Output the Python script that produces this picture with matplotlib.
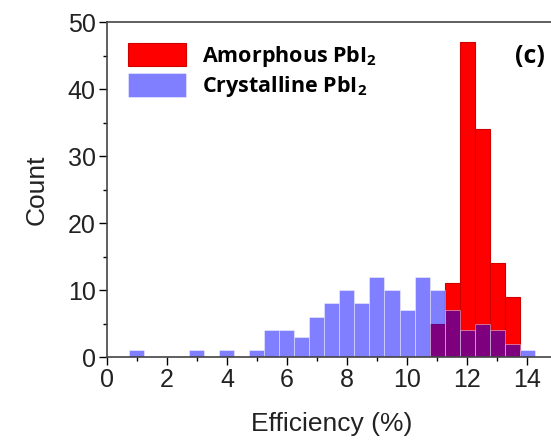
import matplotlib
matplotlib.use("Agg")
import matplotlib.pyplot as plt
import numpy as np

# bin centres (width 0.5) and counts
centers = np.arange(1.0, 14.01, 0.5)
crystalline = [1, 0, 0, 0, 1, 0, 1, 0, 1, 4, 4, 3, 6, 8, 10, 8, 12, 10, 7, 12,
               10, 7, 4, 5, 4, 2, 1]
amorphous = [0, 0, 0, 0, 0, 0, 0, 0, 0, 0, 0, 0, 0, 0, 0, 0, 0, 0, 0, 0,
             5, 11, 47, 34, 14, 9, 0]
xticks = [0, 2, 4, 6, 8, 10, 12, 14]
yticks = [0, 10, 20, 30, 40, 50]

plt.rcParams['font.family'] = ['Liberation Sans', 'DejaVu Sans']
plt.rcParams['mathtext.fontset'] = 'custom'
plt.rcParams['mathtext.rm'] = 'Open Sans'
plt.rcParams['mathtext.bf'] = 'Open Sans:bold'

fig = plt.figure(figsize=(5.51, 4.43), dpi=100)
ax = fig.add_axes([0.194, 0.194, 0.817, 0.756])

ax.bar(centers, amorphous, width=0.5, color='#ff0000', edgecolor='#d00000',
       linewidth=0.8, label=r'Amorphous PbI$_\mathbf{2}$')
ax.bar(centers, crystalline, width=0.5, color='#0000ff', alpha=0.5,
       edgecolor='#ffffff', linewidth=0.6, label=r'Crystalline PbI$_\mathbf{2}$')

ax.set_xlim(0, 15)
ax.set_ylim(0, 50)
ax.set_xticks(xticks)
ax.set_yticks(yticks)
ax.set_xticks(np.arange(1, 15, 2), minor=True)
ax.set_yticks(np.arange(5, 50, 10), minor=True)
ax.tick_params(axis='both', which='major', direction='out', length=6, width=1,
               labelsize=18, pad=2, labelcolor='#222222')
ax.tick_params(axis='both', which='minor', direction='out', length=3, width=1)
ax.tick_params(top=False, right=False)
for s in ax.spines.values():
    s.set_linewidth(1.2)
    s.set_color('#444444')

ax.set_xlabel('Efficiency (%)', fontsize=19, labelpad=14, color='#222222')
ax.set_ylabel('Count', fontsize=19, labelpad=14, color='#222222')

leg = ax.legend(loc='upper left', bbox_to_anchor=(0.027, 0.964), frameon=False,
                prop={'family': 'Open Sans', 'weight': 'bold', 'size': 15.5},
                handlelength=2.7, handleheight=1.3, handletextpad=0.75,
                labelspacing=0.22, borderaxespad=0.0)

ax.text(0.973, 0.898, '(c)', transform=ax.transAxes, fontsize=18,
        fontfamily='Open Sans', fontweight='bold', ha='right', va='center')

plt.savefig('out.png', dpi=100)
